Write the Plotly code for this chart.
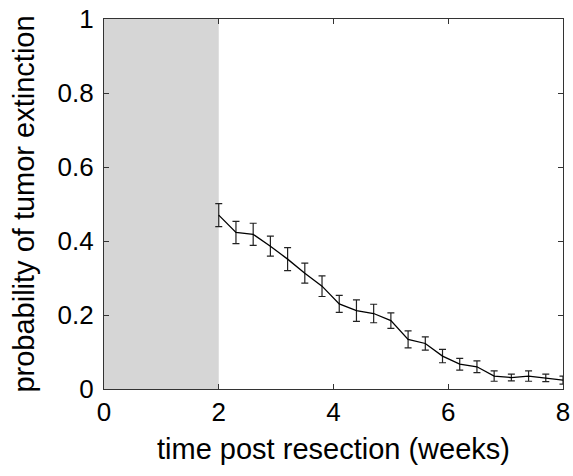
import plotly.graph_objects as go

time_weeks = [2.0, 2.3, 2.6, 2.9, 3.2, 3.5, 3.8, 4.1, 4.4, 4.7, 5.0,
              5.3, 5.6, 5.9, 6.2, 6.5, 6.8, 7.1, 7.4, 7.7, 8.0]
prob_extinction = [0.470, 0.423, 0.418, 0.386, 0.351, 0.313, 0.278, 0.230, 0.212, 0.204, 0.185,
                   0.134, 0.123, 0.089, 0.067, 0.060, 0.035, 0.031, 0.035, 0.030, 0.024]
err = [0.031, 0.030, 0.030, 0.027, 0.031, 0.027, 0.028, 0.023, 0.029, 0.025, 0.021,
       0.023, 0.018, 0.018, 0.016, 0.016, 0.014, 0.009, 0.014, 0.010, 0.011]
shade_start, shade_end = 0, 2

font = "Liberation Sans, Arial, Helvetica, sans-serif"

fig = go.Figure()
fig.add_trace(go.Scatter(
    x=time_weeks, y=prob_extinction, mode="lines",
    line=dict(color="black", width=1.3),
    error_y=dict(type="data", array=err, visible=True, color="#222222", thickness=1.2, width=3.5),
    showlegend=False,
))
fig.add_shape(type="rect", xref="x", yref="y", x0=shade_start, x1=shade_end, y0=0, y1=1,
              fillcolor="#d6d6d6", line=dict(width=0), layer="below")

axis_common = dict(showgrid=False, zeroline=False, showline=True, linecolor="#333333",
                   linewidth=1.2, mirror="ticks", ticks="inside", ticklen=5, tickcolor="#333333",
                   ticklabeloverflow="allow", automargin=False,
                   tickfont=dict(family=font, size=26, color="black"))
fig.update_xaxes(range=[0, 8], tickvals=[0, 2, 4, 6, 8],
                 title=dict(text="time post resection (weeks)", font=dict(family=font, size=29, color="black"),
                            standoff=12),
                 **axis_common)
fig.update_yaxes(range=[0, 1], tickvals=[0, 0.2, 0.4, 0.6, 0.8, 1],
                 ticktext=["0", "0.2", "0.4", "0.6", "0.8", "1"],
                 ticklabelstandoff=4,
                 title=dict(text="probability of tumor extinction", font=dict(family=font, size=29, color="black"),
                            standoff=14),
                 **axis_common)
fig.update_layout(width=573, height=476, margin=dict(l=104, r=10, t=19, b=87),
                  plot_bgcolor="white", paper_bgcolor="white")
fig.write_html("out.html", config={"displayModeBar": False},
               post_script="document.body.style.margin='0';")
